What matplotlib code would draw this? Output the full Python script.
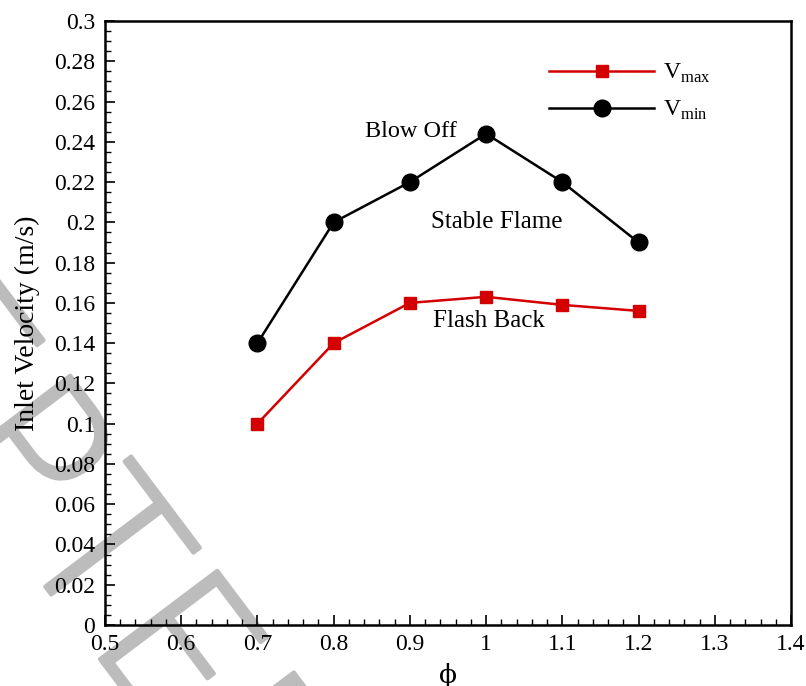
import matplotlib
matplotlib.use("Agg")
import matplotlib.pyplot as plt
import matplotlib.patheffects as pe
from matplotlib.ticker import MultipleLocator, FuncFormatter

plt.rcParams['font.family'] = ['Liberation Serif', 'DejaVu Serif']
plt.rcParams['mathtext.fontset'] = 'custom'
plt.rcParams['mathtext.rm'] = 'Liberation Serif'

phi = [0.7, 0.8, 0.9, 1.0, 1.1, 1.2]
v_max = [0.100, 0.140, 0.160, 0.163, 0.159, 0.156]
v_min = [0.140, 0.200, 0.220, 0.244, 0.220, 0.190]

fig = plt.figure(figsize=(8.06, 6.86), dpi=100)
ax = fig.add_axes([105/806, 1-625/686, (791-105)/806, (625-21)/686])

# watermark (behind everything)
wm_color = '#bcbcbc'
fig.text(-0.482, 0.984, "ACCEPTED", rotation=-53, fontsize=145, color=wm_color,
         family='DejaVu Sans', fontweight='light', ha='left', va='baseline',
         zorder=-1, rotation_mode='anchor',
         path_effects=[pe.withStroke(linewidth=3, foreground=wm_color)])

ax.plot(phi, v_max, color='#d40000', lw=1.8, marker='s', ms=9,
        label=r'$\mathrm{V}_{\mathrm{max}}$', zorder=3)
ax.plot(phi, v_min, color='black', lw=1.8, marker='o', ms=12,
        label=r'$\mathrm{V}_{\mathrm{min}}$', zorder=3)

ax.set_xlim(0.5, 1.4)
ax.set_ylim(0, 0.3)
ax.xaxis.set_major_locator(MultipleLocator(0.1))
ax.xaxis.set_minor_locator(MultipleLocator(0.02))
ax.yaxis.set_major_locator(MultipleLocator(0.02))
ax.yaxis.set_minor_locator(MultipleLocator(0.005))
fmt = FuncFormatter(lambda v, p: ('%.3f' % v).rstrip('0').rstrip('.') if abs(v) > 1e-9 else '0')
ax.xaxis.set_major_formatter(fmt)
ax.yaxis.set_major_formatter(fmt)
ax.tick_params(which='both', direction='in', labelsize=17, top=False, right=False)
ax.tick_params(axis='x', which='major', pad=6.5)
ax.tick_params(axis='y', which='major', pad=7)
ax.tick_params(which='major', length=7, width=1.2)
ax.tick_params(which='minor', length=4, width=1.0)
for s in ax.spines.values():
    s.set_linewidth(1.8)
ax.patch.set_alpha(0)

ax.set_xlabel('ϕ', fontsize=19, family=['DejaVu Serif'], labelpad=5.5)
ax.set_ylabel('Inlet Velocity (m/s)', fontsize=20, labelpad=10)

ax.text(0.902, 0.245, 'Blow Off', fontsize=17.5, ha='center', va='center')
ax.text(1.014, 0.200, 'Stable Flame', fontsize=18, ha='center', va='center')
ax.text(1.003, 0.151, 'Flash Back', fontsize=18, ha='center', va='center')

leg = ax.legend(loc='upper left', bbox_to_anchor=((549-105)/686, (625-62)/604),
                frameon=False, fontsize=17, handlelength=4.45, handletextpad=0.38,
                labelspacing=0.58, borderpad=0, borderaxespad=0)

fig.savefig('out.png', dpi=100)
